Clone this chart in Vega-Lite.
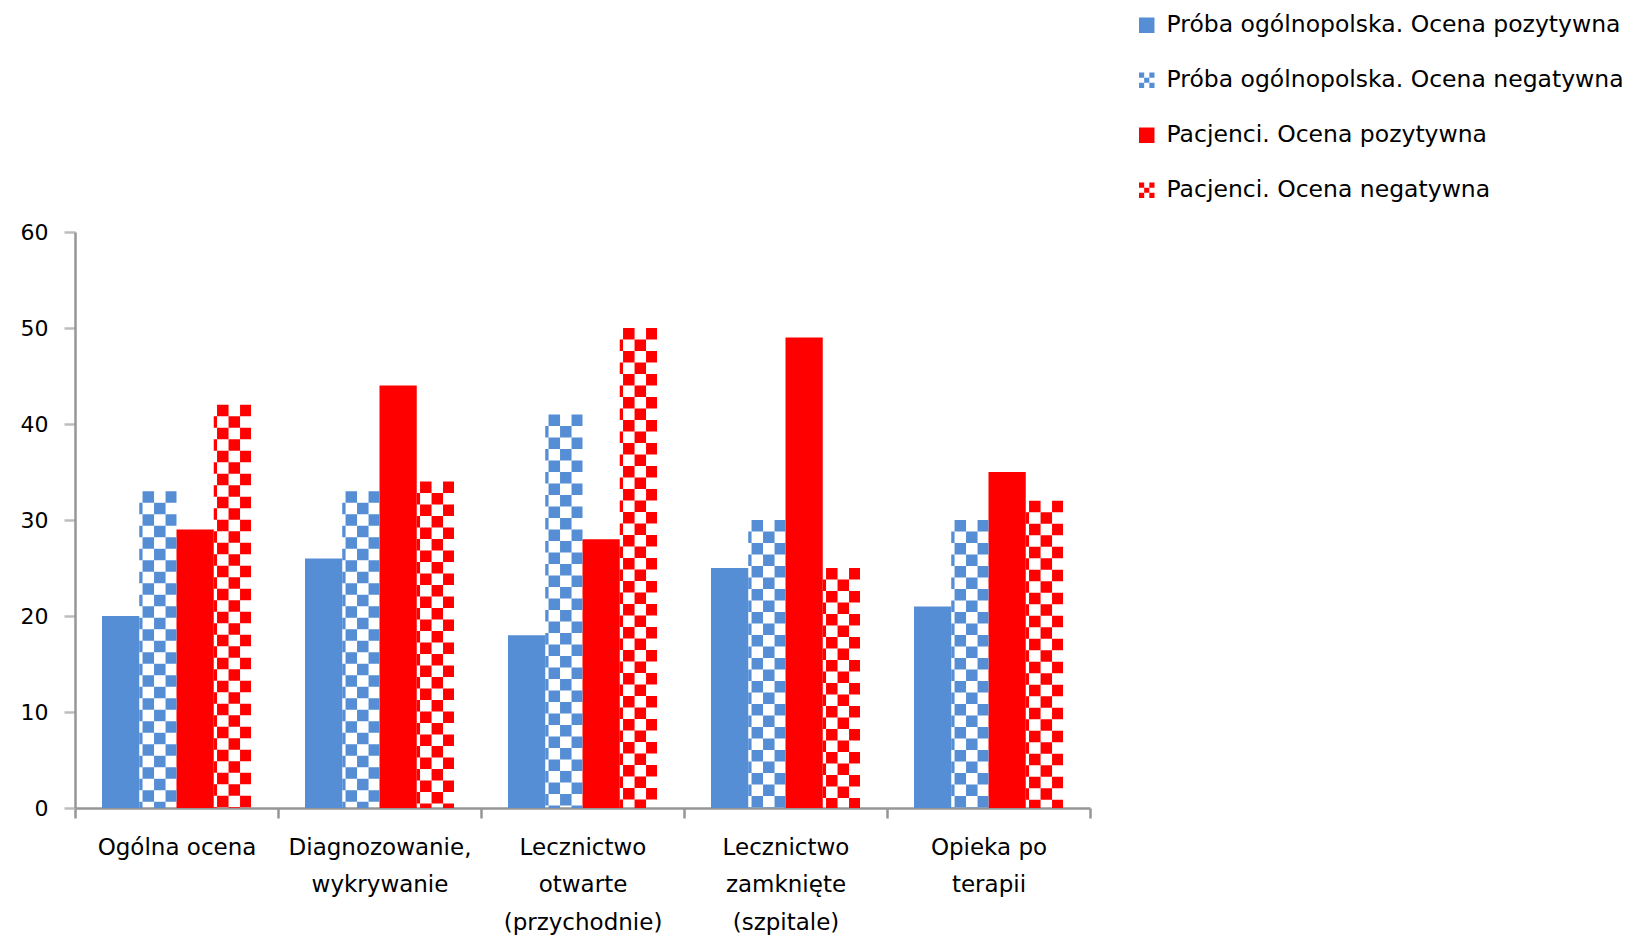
{
  "$schema": "https://vega.github.io/schema/vega-lite/v6.json",
  "width": 1015,
  "height": 576,
  "autosize": {"type": "none"},
  "padding": {"left": 75, "top": 232, "right": 549, "bottom": 128},
  "background": "white",
  "config": {"view": {"stroke": null}, "font": "DejaVu Sans"},
  "data": {
    "values": [
      {"category": "Ogólna ocena", "series": "Próba ogólnopolska. Ocena pozytywna", "value": 20},
      {"category": "Ogólna ocena", "series": "Próba ogólnopolska. Ocena negatywna", "value": 33},
      {"category": "Ogólna ocena", "series": "Pacjenci. Ocena pozytywna", "value": 29},
      {"category": "Ogólna ocena", "series": "Pacjenci. Ocena negatywna", "value": 42},
      {"category": "Diagnozowanie,\nwykrywanie", "series": "Próba ogólnopolska. Ocena pozytywna", "value": 26},
      {"category": "Diagnozowanie,\nwykrywanie", "series": "Próba ogólnopolska. Ocena negatywna", "value": 33},
      {"category": "Diagnozowanie,\nwykrywanie", "series": "Pacjenci. Ocena pozytywna", "value": 44},
      {"category": "Diagnozowanie,\nwykrywanie", "series": "Pacjenci. Ocena negatywna", "value": 34},
      {"category": "Lecznictwo\notwarte\n(przychodnie)", "series": "Próba ogólnopolska. Ocena pozytywna", "value": 18},
      {"category": "Lecznictwo\notwarte\n(przychodnie)", "series": "Próba ogólnopolska. Ocena negatywna", "value": 41},
      {"category": "Lecznictwo\notwarte\n(przychodnie)", "series": "Pacjenci. Ocena pozytywna", "value": 28},
      {"category": "Lecznictwo\notwarte\n(przychodnie)", "series": "Pacjenci. Ocena negatywna", "value": 50},
      {"category": "Lecznictwo\nzamknięte\n(szpitale)", "series": "Próba ogólnopolska. Ocena pozytywna", "value": 25},
      {"category": "Lecznictwo\nzamknięte\n(szpitale)", "series": "Próba ogólnopolska. Ocena negatywna", "value": 30},
      {"category": "Lecznictwo\nzamknięte\n(szpitale)", "series": "Pacjenci. Ocena pozytywna", "value": 49},
      {"category": "Lecznictwo\nzamknięte\n(szpitale)", "series": "Pacjenci. Ocena negatywna", "value": 25},
      {"category": "Opieka po\nterapii", "series": "Próba ogólnopolska. Ocena pozytywna", "value": 21},
      {"category": "Opieka po\nterapii", "series": "Próba ogólnopolska. Ocena negatywna", "value": 30},
      {"category": "Opieka po\nterapii", "series": "Pacjenci. Ocena pozytywna", "value": 35},
      {"category": "Opieka po\nterapii", "series": "Pacjenci. Ocena negatywna", "value": 32}
    ]
  },
  "encoding": {
    "x": {
      "field": "category",
      "type": "nominal",
      "sort": ["Ogólna ocena", "Diagnozowanie,\nwykrywanie", "Lecznictwo\notwarte\n(przychodnie)", "Lecznictwo\nzamknięte\n(szpitale)", "Opieka po\nterapii"],
      "scale": {"paddingInner": 0, "paddingOuter": 0},
      "title": null,
      "axis": {
        "labelAngle": 0,
        "labelExpr": "split(datum.label, '\\n')",
        "labelFontSize": 23,
        "labelColor": "#000000",
        "labelLineHeight": 37.6,
        "labelPadding": 18,
        "labelBaseline": "top",
        "tickBand": "extent",
        "tickSize": 10,
        "tickColor": "#969696",
        "tickWidth": 2.5,
        "domainColor": "#969696",
        "domainWidth": 2.5,
        "grid": false,
        "labelLimit": 0
      }
    },
    "y": {
      "field": "value",
      "type": "quantitative",
      "title": null,
      "scale": {"domain": [0, 60], "nice": false},
      "axis": {
        "values": [0, 10, 20, 30, 40, 50, 60],
        "grid": false,
        "labelFontSize": 22,
        "labelColor": "#000000",
        "labelPadding": 16,
        "tickSize": 11,
        "tickColor": "#bdbdbd",
        "tickWidth": 2.5,
        "domainColor": "#969696",
        "domainWidth": 2.5
      }
    },
    "color": {
      "field": "series",
      "type": "nominal",
      "scale": {
        "domain": ["Próba ogólnopolska. Ocena pozytywna", "Próba ogólnopolska. Ocena negatywna", "Pacjenci. Ocena pozytywna", "Pacjenci. Ocena negatywna"],
        "range": ["#558ED5", "#558ED5", "#FF0000", "#FF0000"]
      },
      "legend": {
        "orient": "none",
        "legendX": 1060,
        "legendY": -218.5,
        "title": null,
        "padding": 0,
        "labelFontSize": 23.5,
        "labelColor": "#000000",
        "labelOffset": 8,
        "labelLimit": 0,
        "rowPadding": 30,
        "symbolSize": 240,
        "symbolType": "square",
        "symbolStrokeWidth": 0,
        "symbolOpacity": 1,
        "encode": {
          "symbols": {
            "update": {
              "shape": {"signal": "indexof(datum.value, 'negatywna') >= 0 ? 'M-1,-1H-0.333V-0.333H-1Z M0.333,-1H1V-0.333H0.333Z M-0.333,-0.333H0.333V0.333H-0.333Z M-1,0.333H-0.333V1H-1Z M0.333,0.333H1V1H0.333Z' : 'square'"}
            }
          }
        }
      }
    }
  },
  "layer": [
    {
      "transform": [{"filter": "indexof(datum.series, 'pozytywna') >= 0"}],
      "mark": {"type": "bar"},
      "encoding": {
        "xOffset": {
          "field": "series",
          "type": "nominal",
          "scale": {
            "domain": ["Próba ogólnopolska. Ocena pozytywna", "Próba ogólnopolska. Ocena negatywna", "Pacjenci. Ocena pozytywna", "Pacjenci. Ocena negatywna"],
            "paddingInner": 0,
            "paddingOuter": 0.72483
          }
        }
      }
    },
    {
      "transform": [{"filter": "datum.series === 'Próba ogólnopolska. Ocena negatywna'"}],
      "mark": {"type": "rule", "strokeWidth": 3.3, "strokeDash": [11.5, 11.5], "strokeDashOffset": 11.5, "strokeCap": "butt", "xOffset": -16.975},
      "encoding": {"x": {"field": "category", "type": "nominal", "bandPosition": 0.40825}, "y2": {"datum": 0}}
    },
    {
      "transform": [{"filter": "datum.series === 'Próba ogólnopolska. Ocena negatywna'"}],
      "mark": {"type": "rule", "strokeWidth": 11.5, "strokeDash": [11.5, 11.5], "strokeDashOffset": 0, "strokeCap": "butt", "xOffset": -9.575},
      "encoding": {"x": {"field": "category", "type": "nominal", "bandPosition": 0.40825}, "y2": {"datum": 0}}
    },
    {
      "transform": [{"filter": "datum.series === 'Próba ogólnopolska. Ocena negatywna'"}],
      "mark": {"type": "rule", "strokeWidth": 11.5, "strokeDash": [11.5, 11.5], "strokeDashOffset": 11.5, "strokeCap": "butt", "xOffset": 1.925},
      "encoding": {"x": {"field": "category", "type": "nominal", "bandPosition": 0.40825}, "y2": {"datum": 0}}
    },
    {
      "transform": [{"filter": "datum.series === 'Próba ogólnopolska. Ocena negatywna'"}],
      "mark": {"type": "rule", "strokeWidth": 10.95, "strokeDash": [11.5, 11.5], "strokeDashOffset": 0, "strokeCap": "butt", "xOffset": 13.15},
      "encoding": {"x": {"field": "category", "type": "nominal", "bandPosition": 0.40825}, "y2": {"datum": 0}}
    },
    {
      "transform": [{"filter": "datum.series === 'Pacjenci. Ocena negatywna'"}],
      "mark": {"type": "rule", "strokeWidth": 3.3, "strokeDash": [11.5, 11.5], "strokeDashOffset": 11.5, "strokeCap": "butt", "xOffset": -16.975},
      "encoding": {"x": {"field": "category", "type": "nominal", "bandPosition": 0.77525}, "y2": {"datum": 0}}
    },
    {
      "transform": [{"filter": "datum.series === 'Pacjenci. Ocena negatywna'"}],
      "mark": {"type": "rule", "strokeWidth": 11.5, "strokeDash": [11.5, 11.5], "strokeDashOffset": 0, "strokeCap": "butt", "xOffset": -9.575},
      "encoding": {"x": {"field": "category", "type": "nominal", "bandPosition": 0.77525}, "y2": {"datum": 0}}
    },
    {
      "transform": [{"filter": "datum.series === 'Pacjenci. Ocena negatywna'"}],
      "mark": {"type": "rule", "strokeWidth": 11.5, "strokeDash": [11.5, 11.5], "strokeDashOffset": 11.5, "strokeCap": "butt", "xOffset": 1.925},
      "encoding": {"x": {"field": "category", "type": "nominal", "bandPosition": 0.77525}, "y2": {"datum": 0}}
    },
    {
      "transform": [{"filter": "datum.series === 'Pacjenci. Ocena negatywna'"}],
      "mark": {"type": "rule", "strokeWidth": 10.95, "strokeDash": [11.5, 11.5], "strokeDashOffset": 0, "strokeCap": "butt", "xOffset": 13.15},
      "encoding": {"x": {"field": "category", "type": "nominal", "bandPosition": 0.77525}, "y2": {"datum": 0}}
    }
  ]
}
